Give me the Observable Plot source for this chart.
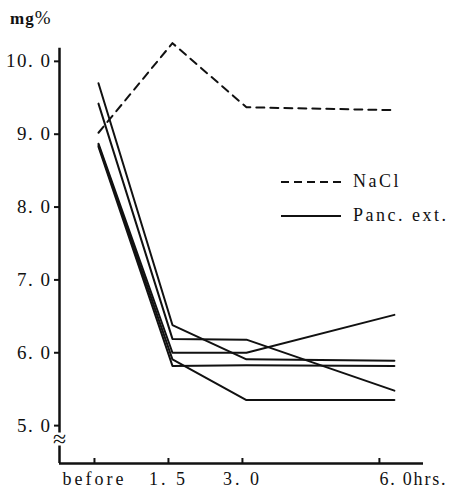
<!DOCTYPE html>
<html>
<head>
<meta charset="utf-8">
<script src="https://cdn.jsdelivr.net/npm/d3@7"></script>
<script src="https://cdn.jsdelivr.net/npm/@observablehq/plot@0.6"></script>
<style>
  html, body { margin: 0; padding: 0; background: #fff; }
  #wrap { position: relative; width: 449px; height: 493px; font-family: "Liberation Serif", "DejaVu Serif", serif; color: #111; }
  #unit { position: absolute; left: 10px; top: 7px; font-size: 17px; letter-spacing: 1px; }
  #unit b { font-weight: bold; }
  #unit span { font-size: 19px; }
  .leg { position: absolute; left: 281px; display: flex; align-items: center; font-size: 18px; letter-spacing: 2.5px; }
  .leg svg { margin-right: 12px; }
  #wrap g[aria-label="y-axis tick label"] text { letter-spacing: 1.5px; }
  #wrap g[aria-label="x-axis tick label"] text { letter-spacing: 3px; }
</style>
</head>
<body>
<div id="wrap">
  <div id="unit"><b>mg</b><span>%</span></div>
</div>
<script>
// ---- data ----
const timeHours = [0, 1.5, 3, 6];
const xTickLabels = ["before", "1. 5", "3. 0", "6. 0hrs."];
const yTicks = [5, 6, 7, 8, 9, 10];
const yTickLabels = ["5. 0", "6. 0", "7. 0", "8. 0", "9. 0", "10. 0"];
const naclValues = [9.02, 10.25, 9.37, 9.33];
const panc1 = [9.70, 6.38, 5.91, 5.89];
const panc2 = [9.42, 6.19, 6.18, 5.48];
const panc3 = [8.87, 6.00, 6.00, 6.52];
const panc4 = [8.85, 5.91, 5.35, 5.35];
const panc5 = [8.83, 5.82, 5.83, 5.82];
const seriesNames = ["NaCl", "Panc. ext."];

const pancSeries = [panc1, panc2, panc3, panc4, panc5];
const rows = [];
naclValues.forEach((v, i) => rows.push({group: "nacl", kind: seriesNames[0], t: timeHours[i], v}));
pancSeries.forEach((s, k) => s.forEach((v, i) => rows.push({group: "p" + k, kind: seriesNames[1], t: timeHours[i], v})));

const xMin = -0.79, xMax = 6.59, yMin = 4.48, yMax = 10.3, yAxisTop = 10.18;

const plot = Plot.plot({
  width: 449,
  height: 493,
  marginLeft: 59,
  marginRight: 26,
  marginTop: 39,
  marginBottom: 30,
  style: {fontFamily: "'Liberation Serif', 'DejaVu Serif', serif", fontSize: "18px", background: "transparent", overflow: "visible", color: "#111"},
  x: {domain: [xMin, xMax], label: null},
  y: {domain: [yMin, yMax], label: null},
  marks: [
    // y axis line with break
    Plot.ruleX([xMin], {y1: yMin, y2: 4.72, stroke: "#111", strokeWidth: 2.5}),
    Plot.ruleX([xMin], {y1: 4.9, y2: yAxisTop, stroke: "#111", strokeWidth: 2.5}),
    Plot.text(["≈"], {x: xMin, y: 4.81, text: d => d, fontSize: 24, fill: "#111"}),
    // x axis line
    Plot.ruleY([yMin], {x1: xMin, x2: xMax, stroke: "#111", strokeWidth: 2.5}),
    Plot.axisY({ticks: yTicks, label: null, tickFormat: (d) => yTickLabels[yTicks.indexOf(d)], tickSize: 5, tickPadding: 3, strokeWidth: 2, fontSize: 19}),
    Plot.axisX({ticks: timeHours.slice(0, 3), label: null, tickFormat: d => xTickLabels[timeHours.indexOf(d)], tickSize: -5, tickPadding: 14, strokeWidth: 2, dx: -4, fontSize: 18}),
    Plot.axisX({ticks: timeHours.slice(3), label: null, tickFormat: d => xTickLabels[timeHours.indexOf(d)], tickSize: -5, tickPadding: 14, strokeWidth: 2, textAnchor: "start", dx: -15, fontSize: 18}),
    Plot.line(rows.filter(d => d.group === "nacl"), {x: "t", y: "v", stroke: "#111", strokeWidth: 2, strokeDasharray: "8,6"}),
    Plot.line(rows.filter(d => d.group !== "nacl"), {x: "t", y: "v", z: "group", stroke: "#111", strokeWidth: 2})
  ]
});
const wrap = document.getElementById("wrap");
wrap.insertBefore(plot, wrap.firstChild);
const xLabelGroups = plot.querySelectorAll('g[aria-label="x-axis tick label"]');
xLabelGroups[xLabelGroups.length - 1].querySelectorAll("text").forEach(t => t.style.letterSpacing = "1.8px");

// legend
function legendItem(name, dash, top) {
  const d = document.createElement("div");
  d.className = "leg";
  d.style.top = top + "px";
  d.innerHTML = `<svg width="60" height="6"><line x1="0" y1="3" x2="60" y2="3" stroke="#111" stroke-width="2" ${dash ? 'stroke-dasharray="8,5"' : ''}/></svg><span>${name}</span>`;
  wrap.appendChild(d);
}
legendItem(seriesNames[0], true, 171);
legendItem(seriesNames[1], false, 205);
</script>
</body>
</html>
